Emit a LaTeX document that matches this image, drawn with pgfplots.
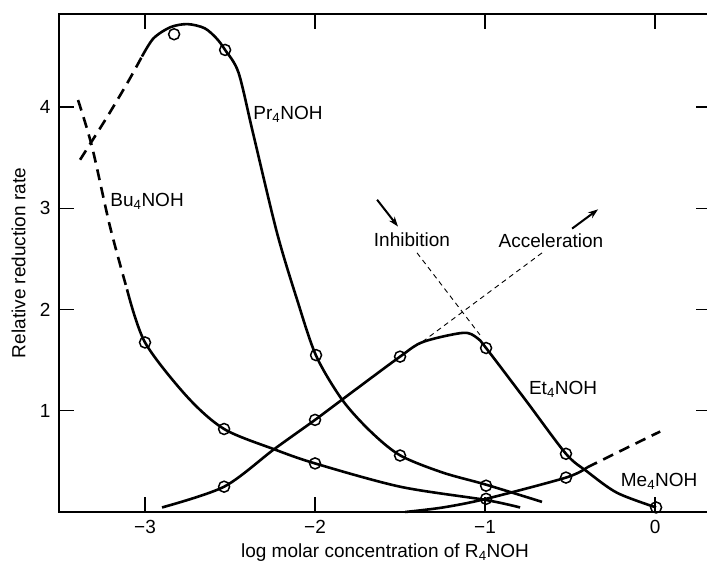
\documentclass[border=0pt]{standalone}
\usepackage{fontspec}
\setmainfont{Liberation Sans}
\usepackage{pgfplots}
\pgfplotsset{compat=1.18}
\usetikzlibrary{arrows.meta}

\begin{document}
\fontsize{19}{22}\selectfont
\begin{tikzpicture}
\begin{axis}[
    name=ax,
    scale only axis,
    width=652pt, height=498pt,
    xmin=-3.506, xmax=0.329,
    ymin=0, ymax=4.92,
    xtick={-3,-2,-1,0},
    xticklabels={−3,−2,−1,0},
    ytick={1,2,3,4},
    yticklabels={1,2,3,4},
    major tick length=15pt,
    axis line style={line width=2pt},
    every tick/.style={black, line width=1.3pt},
    tick label style={font=\fontsize{19}{22}\selectfont},
    yticklabel style={xshift=-2pt},
    xticklabel style={yshift=-2pt},
    xlabel={log molar concentration of R\textsubscript{4}NOH},
    ylabel={Relative reduction rate},
    every axis x label/.style={at={(axis description cs:0.5,-0.082)}, anchor=center},
    every axis y label/.style={at={(axis description cs:-0.062,0.5)}, anchor=center, rotate=90},
    clip=false,
]
% Pr4NOH
\addplot[line width=2.6pt, dash pattern=on 11pt off 7pt, smooth] coordinates {
    (-3.382,3.48) (-3.224,3.90) (-3.10,4.25) (-3.018,4.50)};
\addplot[line width=2.6pt, smooth] coordinates {
    (-3.018,4.50) (-2.95,4.68) (-2.85,4.79) (-2.75,4.82) (-2.65,4.78)
    (-2.58,4.68) (-2.529,4.565) (-2.45,4.34) (-2.365,3.745) (-2.224,2.76)
    (-2.106,2.10) (-1.994,1.545) (-1.841,1.11) (-1.676,0.80) (-1.5,0.56)
    (-1.25,0.39) (-0.994,0.27) (-0.665,0.10)};
% Bu4NOH
\addplot[line width=2.6pt, dash pattern=on 11pt off 7pt, smooth] coordinates {
    (-3.394,4.07) (-3.312,3.61) (-3.206,2.82) (-3.106,2.20)};
\addplot[line width=2.6pt, smooth] coordinates {
    (-3.106,2.20) (-3.0,1.675) (-2.753,1.14) (-2.535,0.82) (-2.241,0.62)
    (-2.0,0.48) (-1.5,0.25) (-1.0,0.12) (-0.794,0.045)};
% Et4NOH
\addplot[line width=2.6pt, smooth] coordinates {
    (-2.9,0.045) (-2.535,0.25) (-2.241,0.62) (-2.0,0.91) (-1.841,1.11)
    (-1.5,1.535) (-1.365,1.68) (-1.129,1.77) (-1.047,1.72) (-0.994,1.62)
    (-0.759,1.10) (-0.524,0.575) (-0.4,0.40) (-0.224,0.19) (0.006,0.045)};
% Me4NOH
\addplot[line width=2.6pt, smooth] coordinates {
    (-1.47,0.0) (-1.247,0.045) (-0.994,0.13) (-0.524,0.34) (-0.4,0.44)};
\addplot[line width=2.6pt, dash pattern=on 11pt off 7pt] coordinates {
    (-0.4,0.44) (-0.165,0.635) (0.03,0.795)};
% inhibition / acceleration guides
\addplot[line width=0.9pt, dash pattern=on 5pt off 4pt] coordinates {(-1.4,2.56) (-1.03,1.75)};
\addplot[line width=0.9pt, dash pattern=on 5pt off 4pt] coordinates {(-0.665,2.56) (-1.37,1.68)};
\addplot[line width=2pt, -{Stealth[length=10pt,width=7pt]}] coordinates {(-1.635,3.085) (-1.512,2.82)};
\addplot[line width=2pt, -{Stealth[length=10pt,width=7pt]}] coordinates {(-0.488,2.80) (-0.335,2.99)};
% measured points
\addplot[only marks, mark=o, mark size=5.5pt, mark options={fill=white, line width=1.5pt}] coordinates {
    (-2.829,4.72) (-2.529,4.565) (-1.994,1.55) (-1.5,0.558) (-0.994,0.26)
    (-3.0,1.675) (-2.535,0.82) (-2.0,0.48)
    (-2.535,0.25) (-2.0,0.91) (-1.5,1.535) (-0.994,1.62) (-0.524,0.575) (0.006,0.045)
    (-0.994,0.13) (-0.524,0.34)};
\node at (axis cs:-2.159,3.93) {Pr\textsubscript{4}NOH};
\node at (axis cs:-2.988,3.065) {Bu\textsubscript{4}NOH};
\node at (axis cs:-0.541,1.21) {Et\textsubscript{4}NOH};
\node at (axis cs:0.024,0.30) {Me\textsubscript{4}NOH};
\node at (axis cs:-1.43,2.69) {Inhibition};
\node at (axis cs:-0.612,2.68) {Acceleration};
\end{axis}
\pgfresetboundingbox
\path[use as bounding box] ([shift={(-59pt,-53pt)}]ax.south west) rectangle ([shift={(648pt,512pt)}]ax.south west);
\end{tikzpicture}
\end{document}
